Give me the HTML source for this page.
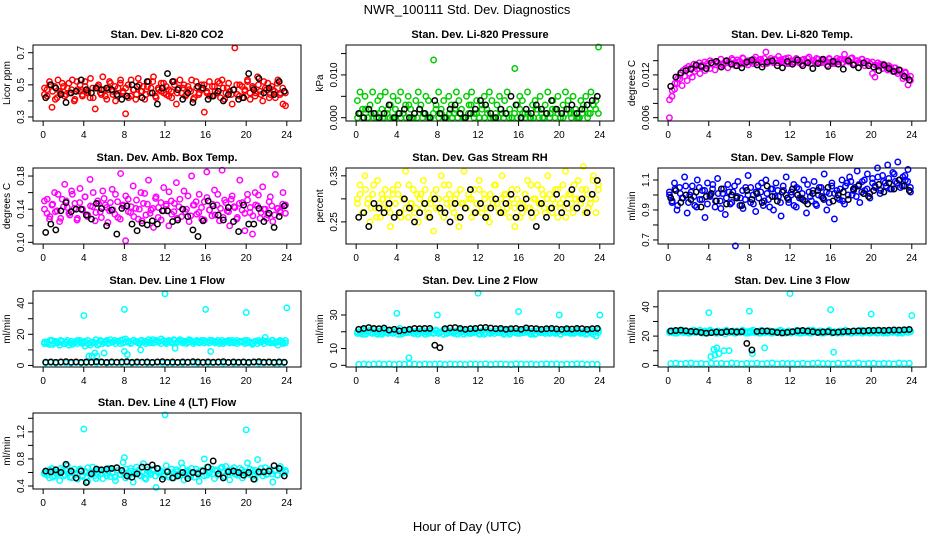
<!DOCTYPE html>
<html><head><meta charset="utf-8"><title>NWR_100111 Std. Dev. Diagnostics</title>
<style>
html,body{margin:0;padding:0;background:#fff;}
svg{display:block;font-family:"Liberation Sans",Arial,sans-serif;}
</style></head>
<body>
<svg id="chart" width="936" height="540" viewBox="0 0 936 540">
<rect width="936" height="540" fill="#fff"/>
<text x="467" y="14" text-anchor="middle" font-size="13">NWR_100111 Std. Dev. Diagnostics</text>
<text x="467" y="531" text-anchor="middle" font-size="13">Hour of Day (UTC)</text>
</svg>
<script>
// ---- data ----
const xTicks = [0,4,8,12,16,20,24];
const xTickLabels = ["0","4","8","12","16","20","24"];

const co2Red = [.44,.47,.52,.36,.49,.42,.46,.51,.43,.48,.45,.53,.41,.47,.50,.44,.52,.46,.42,.48,.35,.49,.45,.55,.43,.47,.51,.44,.40,.48,.53,.46,.32,.50,.43,.47,.41,.54,.46,.49,.44,.52,.48,.55,.42,.47,.51,.45,.49,.43,.46,.52,.38,.48,.45,.50,.44,.47,.53,.42,.48,.45,.50,.33,.46,.52,.43,.49,.45,.51,.53,.41,.48,.46,.38,.73,.44,.50,.42,.47,.52,.45,.49,.43,.55,.46,.40,.48,.51,.44,.47,.42,.53,.45,.38,.37];
const co2Red2 = [.48,.43,.50,.46,.41,.53,.45,.49,.44,.51,.47,.40,.52,.46,.43,.49,.45,.54,.42,.48,.50,.44,.47,.41,.52,.46,.49,.43,.51,.45,.48,.42,.53,.47,.44,.50,.46,.41,.49,.45,.52,.43,.48,.46,.51,.44,.47,.42,.50,.45,.53,.48,.43,.49,.46,.41,.52,.44,.47,.50,.45,.43,.49,.46,.52,.42,.48,.45,.51,.44,.47,.50,.43,.49,.46,.53,.41,.48,.45,.50,.44,.52,.47,.42,.49,.46,.51,.44,.48,.45];
const co2Black = [.42,.50,.48,.44,.39,.45,.46,.53,.47,.45,.48,.47,.48,.47,.44,.41,.43,.50,.49,.42,.52,.45,.38,.48,.57,.52,.47,.41,.45,.39,.49,.48,.41,.43,.46,.40,.44,.47,.41,.42,.57,.47,.54,.45,.48,.44,.52,.46];

const presGreen = [.004,.006,.002,.005,.000,.003,.006,.001,.004,.005,.000,.006,.002,.003,.005,.000,.004,.006,.001,.003,.005,.002,.000,.004,.006,.003,.001,.005,.004,.000,.0135,.003,.006,.002,.004,.000,.005,.003,.001,.006,.004,.002,.000,.005,.003,.006,.001,.004,.000,.003,.005,.002,.006,.004,.000,.003,.005,.001,.004,.006,.002,.000,.0115,.003,.005,.004,.001,.006,.000,.003,.004,.002,.005,.000,.003,.006,.001,.004,.002,.005,.000,.003,.006,.004,.001,.005,.002,.000,.004,.003,.005,.001,.006,.003,.004,.0165];
const presGreen2 = [.000,.001,.000,.002,.000,.001,.000,.000,.001,.002,.000,.001,.000,.000,.002,.001,.000,.001,.000,.003,.000,.001,.000,.002,.000,.001,.000,.000,.001,.002,.000,.001,.000,.000,.001,.000,.002,.000,.001,.000,.000,.001,.003,.000,.001,.000,.002,.000,.001,.000,.000,.001,.000,.002,.000,.001,.000,.000,.001,.000,.002,.001,.000,.001,.000,.000,.002,.000,.001,.000,.001,.000,.002,.000,.001,.000,.000,.001,.002,.000,.001,.000,.000,.001,.002,.000,.001,.003,.002,.001];
const presBlack = [.001,.000,.002,.001,.000,.001,.003,.000,.001,.002,.000,.001,.002,.001,.000,.004,.001,.000,.002,.003,.001,.000,.001,.002,.004,.003,.001,.000,.002,.001,.005,.003,.000,.002,.001,.003,.002,.001,.004,.002,.001,.002,.003,.001,.002,.003,.004,.005];

const tempMagenta = [.0060,.0090,.0100,.0108,.0114,.0105,.0118,.0112,.0122,.0117,.0125,.0128,.0122,.0131,.0126,.0133,.0129,.0135,.0127,.0137,.0132,.0134,.0139,.0130,.0136,.0141,.0133,.0138,.0135,.0143,.0137,.0134,.0140,.0136,.0145,.0138,.0142,.0135,.0152,.0139,.0143,.0137,.0141,.0146,.0138,.0142,.0136,.0144,.0140,.0137,.0143,.0139,.0135,.0142,.0138,.0145,.0136,.0140,.0143,.0137,.0141,.0138,.0134,.0142,.0139,.0136,.0143,.0140,.0137,.0149,.0141,.0138,.0144,.0135,.0140,.0137,.0142,.0133,.0139,.0136,.0122,.0117,.0132,.0135,.0129,.0133,.0127,.0131,.0125,.0130,.0122,.0126,.0115,.0124,.0106,.0118];
const tempMagenta2 = [.0085,.0098,.0108,.0115,.0120,.0126,.0129,.0132,.0130,.0135,.0133,.0137,.0134,.0138,.0136,.0140,.0135,.0139,.0137,.0142,.0136,.0140,.0138,.0143,.0137,.0141,.0139,.0144,.0136,.0140,.0138,.0142,.0137,.0141,.0139,.0143,.0136,.0140,.0138,.0142,.0137,.0141,.0139,.0143,.0136,.0140,.0138,.0142,.0137,.0141,.0139,.0143,.0136,.0140,.0138,.0142,.0137,.0141,.0139,.0143,.0136,.0140,.0138,.0142,.0137,.0141,.0139,.0143,.0136,.0140,.0138,.0142,.0137,.0139,.0136,.0138,.0134,.0137,.0133,.0135,.0131,.0133,.0128,.0130,.0125,.0127,.0121,.0123,.0116,.0112];
const tempBlack = [.0104,.0117,.0123,.0126,.0128,.0134,.0132,.0129,.0137,.0139,.0131,.0140,.0135,.0133,.0130,.0138,.0141,.0134,.0131,.0138,.0140,.0133,.0130,.0139,.0135,.0141,.0133,.0137,.0129,.0136,.0142,.0132,.0139,.0135,.0128,.0140,.0134,.0130,.0137,.0133,.0131,.0126,.0134,.0129,.0125,.0127,.0118,.0113];

const ambMagenta = [.150,.135,.128,.145,.160,.138,.125,.152,.170,.142,.133,.158,.147,.129,.165,.140,.155,.131,.176,.143,.126,.150,.137,.162,.145,.124,.148,.139,.158,.130,.183,.144,.102,.152,.136,.168,.141,.128,.160,.147,.133,.175,.139,.118,.155,.142,.127,.166,.146,.120,.150,.137,.172,.143,.131,.162,.140,.125,.180,.145,.134,.158,.128,.149,.185,.139,.132,.163,.145,.126,.187,.151,.138,.120,.156,.142,.130,.175,.148,.114,.158,.136,.110,.160,.144,.129,.167,.140,.133,.155,.125,.182,.141,.136,.160,.145];
const ambMagenta2 = [.140,.152,.131,.146,.137,.158,.129,.143,.150,.135,.162,.141,.127,.148,.139,.155,.133,.144,.160,.136,.147,.130,.153,.142,.138,.164,.134,.149,.128,.145,.156,.137,.143,.131,.151,.140,.126,.159,.146,.135,.141,.153,.130,.148,.138,.144,.161,.134,.147,.129,.152,.140,.137,.156,.132,.145,.149,.136,.142,.127,.154,.139,.146,.133,.158,.141,.130,.148,.137,.152,.143,.128,.147,.139,.135,.151,.142,.132,.145,.157,.136,.140,.129,.149,.144,.133,.141,.138,.146,.135];
const ambBlack = [.112,.122,.115,.138,.148,.137,.140,.140,.133,.128,.147,.141,.120,.139,.110,.141,.144,.122,.114,.123,.121,.126,.122,.138,.138,.125,.127,.140,.131,.115,.107,.126,.150,.144,.133,.127,.142,.125,.113,.145,.122,.122,.141,.125,.135,.118,.131,.144];

const rhYellow = [.30,.33,.27,.35,.29,.25,.31,.28,.34,.26,.30,.32,.28,.24,.31,.29,.33,.27,.30,.36,.26,.29,.32,.28,.25,.31,.34,.29,.27,.30,.23,.32,.28,.35,.26,.30,.33,.29,.27,.31,.24,.29,.36,.28,.30,.26,.32,.29,.34,.27,.31,.28,.25,.30,.33,.29,.27,.35,.31,.28,.26,.30,.24,.32,.29,.27,.31,.34,.28,.26,.30,.33,.29,.31,.27,.35,.28,.30,.32,.26,.29,.33,.36,.28,.31,.27,.30,.34,.29,.37,.32,.28,.30,.35,.27,.33];
const rhYellow2 = [.29,.31,.27,.32,.30,.28,.33,.26,.29,.31,.28,.30,.27,.32,.29,.31,.26,.30,.28,.33,.29,.27,.31,.30,.28,.32,.26,.29,.31,.28,.30,.27,.33,.29,.31,.28,.30,.26,.32,.29,.28,.31,.30,.27,.29,.32,.28,.30,.26,.31,.29,.33,.28,.30,.27,.31,.29,.32,.28,.30,.26,.29,.31,.28,.33,.30,.27,.29,.32,.28,.30,.31,.27,.29,.32,.28,.30,.26,.31,.29,.33,.28,.30,.32,.27,.31,.29,.34,.30,.32];
const rhBlack = [.26,.27,.24,.29,.28,.27,.29,.26,.27,.30,.28,.25,.27,.29,.26,.30,.28,.27,.25,.29,.26,.28,.32,.27,.29,.26,.28,.30,.27,.29,.31,.26,.28,.30,.27,.24,.29,.26,.28,.31,.27,.29,.32,.28,.30,.27,.31,.34];

const flowBlue = [1.02,.95,1.08,.90,1.05,.98,1.12,.88,1.00,1.06,.93,1.10,.97,1.03,.85,1.08,.99,1.04,.92,1.11,.96,1.01,.87,1.07,.94,1.02,.66,1.09,.98,.91,1.05,1.13,.95,1.00,.89,1.06,1.02,.93,1.10,.97,1.04,.90,1.08,.99,.86,1.03,1.12,.95,1.00,1.07,.92,1.04,.98,1.10,.88,1.02,.96,1.09,.93,1.05,.99,1.14,.90,1.01,1.06,.84,1.03,.97,1.10,.94,1.08,1.12,1.00,1.05,1.16,.95,1.09,1.03,1.14,.98,1.11,1.06,1.18,1.01,1.13,1.08,1.20,1.04,1.15,1.09,1.22,1.05,1.12,1.10,1.17,1.02];
const flowBlue2 = [1.00,.96,1.04,.93,1.01,.98,1.06,.95,1.02,.99,.92,1.05,.97,1.03,.94,1.00,1.07,.96,1.01,.91,1.04,.98,1.02,.95,1.06,.99,.93,1.03,.97,1.00,1.05,.94,1.02,.98,1.08,.96,1.01,.92,1.04,.99,1.03,.95,1.06,1.00,.97,1.02,.93,1.05,.98,1.01,.96,1.07,.99,1.03,.94,1.00,1.05,.97,1.02,.95,1.08,1.01,.98,1.04,.96,1.06,1.00,1.09,1.03,.99,1.07,1.02,1.10,1.04,1.01,1.08,1.05,1.12,1.03,1.09,1.06,1.11,1.04,1.14,1.08,1.10,1.06,1.13,1.09,1.05];
const flowBlack = [.98,1.03,.95,1.00,.97,1.02,.92,.99,1.01,.96,1.04,.94,1.00,.98,.93,1.03,.97,1.01,.95,1.06,.99,.96,1.02,.98,1.04,1.00,.97,.94,1.01,1.03,.98,1.05,.96,1.00,1.02,.97,1.04,1.06,1.01,.99,1.03,1.07,1.02,1.08,1.04,1.10,1.06,1.03];

const l1Band = [14,15,13.5,16,14.5,15,13,15.5,14,16,14.5,13.5,15,14,16,15,12.5,14,13,15,14.5,13,16,14,15.5,14,16.5,15,14,15.5,16,14.5,17,15,14,16,15.5,14.5,16,15,14,16.5,15.5,14.5,16,15,17,15.5,14,16,15,16.5,14.5,15.5,16,15,14,16.5,15.5,15,16,14.5,15.5,16,15,14.5,16,15.5,15,14,16,15,15.5,14.5,16,15,14,15.5,15,16,14.5,15,13.5,15.5,14,15,16,18,15,14.5,16,15,13,15.5,14,16];
const l1Band2 = [15,14,16,13.5,15.5,14.5,16,14,15,13,15.5,14.5,16,15,14,15.5,16,14.5,15,16.5,14,15.5,15,16,14.5,15,16,15.5,14,16.5,15,15.5,14.5,16,15,14,16,15.5,15,14.5,16.5,15,15.5,14,16,15,15.5,14.5,16,15,16.5,14.5,15.5,15,16,14,15.5,15,16,14.5,15,16,15.5,14.5,16,15,14,15.5,16,15,14.5,16,15,15.5,14,16,15,14.5,15.5,16,15,14,15.5,15,16,14.5,15,16,15,14.5];
const l1Low = [1.6,1.8,1.5,1.9,1.7,1.6,1.8,1.5,1.7,1.9,1.6,1.8,1.5,1.7,1.8,1.6,1.9,1.5,1.7,1.8,1.6,1.7,1.9,1.6,1.7,1.5,1.8,1.6,1.9,1.7,1.5,1.8,1.6,1.7,1.9,1.5,1.8,1.6,1.7,1.8,1.5,1.9,1.6,1.7,1.8,1.6,1.5,1.7];
const l1Black = [2.1,2.3,2.0,2.2,2.4,2.1,2.3,2.0,2.2,2.1,2.4,2.2,2.0,2.3,2.1,2.2,2.4,2.0,2.3,2.1,2.2,2.0,2.3,2.4,2.1,2.2,2.0,2.3,2.1,2.4,2.2,2.0,2.3,2.1,2.2,2.4,2.0,2.3,2.1,2.2,2.0,2.3,2.4,2.1,2.2,2.0,2.3,2.1];
const l1OutHours = [4,8,12,16,20,24,4.5,4.8,5.1,5.3,6,8,8.3,9.6,13,16.5];
const l1OutVals = [32,36,46,36,34,37,6,6,8,6,8,9,7,10,11,9];

const l2Band = [19,20,18.5,20.5,19.5,21,19,20,18.5,20.5,19.5,20,19,21,19.5,20,18.5,20.5,19,20,19.5,21,19,20,18.5,20.5,19.5,20,19,21,19.5,20.5,19,20,18.5,21,19.5,20,19,20.5,19.5,20,18.5,21,19,20,19.5,20.5,19,20,18.5,21,19.5,20,19,20.5,19.5,20,19,21,18.5,20,19.5,20.5,19,20,19.5,21,19,20,18.5,20.5,19.5,20,19,21,19.5,20,19,20.5,18.5,20,19.5,21,19,20,19.5,20.5,19,20,18.5,20.5,19.5,20,17.5,21];
const l2Band2 = [20,19,21,18.5,20.5,19.5,21.5,19,20,18.5,21,19.5,20.5,19,20,21,18.5,20,19.5,21,20,19,20.5,19.5,21,18.5,20,20.5,19,21,19.5,20,21.5,19,20.5,19.5,20,18.5,21,20,19.5,20.5,19,21,20,18.5,20.5,19.5,21,19,20,20.5,19.5,21,18.5,20,19.5,21,20,19,20.5,19.5,21,20,18.5,20.5,19,21,19.5,20,20.5,19,21,19.5,20,18.5,20.5,21,19.5,20,19,21,20,19.5,20.5,19,21,18.5,20,19.5];
const l2Low = [0.6,0.8,0.5,0.7,0.9,0.6,0.8,0.5,0.7,0.6,0.9,0.7,0.5,0.8,0.6,0.7,0.9,0.5,0.8,0.6,0.7,0.5,0.8,0.7,0.6,0.9,0.5,0.7,0.8,0.6,0.5,0.9,0.7,0.6,0.8,0.5,0.7,0.9,0.6,0.8,0.5,0.7,0.6,0.9,0.8,0.5,0.7,0.6];
const l2Black = [21.5,22,22.5,22,21.8,22.2,21,21.5,20.5,21,21.5,22,21.8,22,22,12,10.5,21.8,22.3,22.5,22,21.5,21.8,22,22.4,22.6,22.2,21.8,22,21.5,21.8,22,21.5,22.3,22,21.8,21.5,21.8,22,21.7,21.5,21.8,21.6,22,21.8,21.5,21.8,22];
const l2OutHours = [4,8,12,16,20,24,4.3,5.2];
const l2OutVals = [31,30,43,32,30,30,22,4.5];

const l3Band = [23,22.5,23.5,22,23,24,22.5,23,22,23.5,22.5,23,24,22.5,23,22,23.5,22.5,23,22,22.5,23,21.5,23,22.5,23.5,22,23,22.5,23.5,22,23,22.5,24,22.5,23,22,23.5,22.5,23,22,23,22.5,23.5,22,23,22.5,23.5,22,23,22.5,23.5,22,23,22.5,24,22,23,22.5,23.5,22,23,22.5,23.5,22,23,22.5,23,22,23.5,22.5,23,22,23.5,22.5,23,22,23.5,22.5,24,22.5,23,22,23.5,22.5,23,22,23.5,22.5,23,22,23.5,22.5,24,22.5,23];
const l3Band2 = [22.5,23.5,22,23,24,22.5,23,22,23.5,24,22.5,23,22,23.5,22.5,24,23,22,23.5,22.5,23,24,22.5,23,22,23.5,22.5,24,23,22,23.5,22.5,23,22,24,22.5,23,23.5,22,23,22.5,24,23,22,23.5,22.5,23,24,22,23,22.5,23.5,22,24,23,22.5,23.5,22,23,24,22.5,23,22,23.5,22.5,24,23,22,23.5,22.5,23,24,22.5,23,22,23.5,22.5,24,23,22,23.5,22.5,23,24,22.5,23,22,23.5,24,23];
const l3Low = [1.2,1.5,1.0,1.4,1.6,1.1,1.3,1.0,1.5,1.2,1.4,1.1,1.6,1.3,1.0,1.4,1.2,1.5,1.1,1.3,1.6,1.0,1.4,1.2,1.3,1.1,1.5,1.0,1.4,1.6,1.2,1.3,1.0,1.5,1.1,1.4,1.2,1.6,1.0,1.3,1.5,1.1,1.4,1.2,1.0,1.6,1.3,1.4];
const l3Black = [23.5,23.8,24,23.6,23.2,23,22.5,22,22.3,22.8,22.5,23,23.2,22.8,23,15,10.5,23.2,23.4,23.5,23,22.5,22.2,22.6,23,23.6,23.8,23.4,23,22.5,22.8,23,22.4,22.7,23,23.2,23.4,23.6,23.5,23.8,23.9,24,23.8,24,24.2,24.1,24.3,24.5];
const l3OutHours = [4,8,12,16,20,24,4.2,4.5,4.8,5,5.5,6,8.3,9.5,16.3,4.6];
const l3OutVals = [36,37,49,38,35,34,6,11,12,8,10,10,8,12,9,7];

const l4Cyan = [.58,.62,.52,.66,.55,.60,.48,.63,.57,.70,.53,.61,.59,.50,.65,.56,.62,.47,.60,.68,.55,.58,.64,.51,.59,.66,.54,.61,.48,.63,.57,.75,.52,.60,.66,.46,.58,.63,.55,.73,.50,.61,.57,.65,.38,.59,.62,.54,.70,.56,.60,.52,.64,.58,.74,.49,.61,.57,.66,.53,.60,.47,.63,.80,.56,.59,.65,.51,.62,.57,.68,.54,.60,.49,.64,.58,.56,.66,.52,.61,.74,.57,.63,.50,.79,.60,.55,.67,.58,.62,.46,.64,.56,.69,.59,.61];
const l4Cyan2 = [.60,.56,.64,.53,.61,.58,.66,.55,.62,.59,.52,.65,.57,.63,.54,.60,.67,.56,.61,.51,.64,.58,.62,.55,.66,.59,.53,.63,.57,.60,.65,.54,.62,.58,.68,.56,.61,.52,.64,.59,.63,.55,.66,.60,.57,.62,.53,.65,.58,.61,.56,.67,.59,.63,.54,.60,.65,.57,.62,.55,.68,.61,.58,.64,.56,.66,.60,.69,.63,.59,.67,.62,.57,.64,.61,.58,.65,.55,.63,.59,.66,.60,.57,.64,.58,.62,.56,.65,.60,.63];
const l4Black = [.62,.61,.64,.60,.72,.62,.52,.62,.45,.58,.65,.64,.65,.66,.67,.63,.55,.53,.58,.68,.68,.71,.66,.50,.61,.52,.55,.60,.51,.60,.58,.62,.68,.77,.58,.52,.61,.62,.60,.56,.60,.50,.61,.61,.62,.70,.66,.55];
const l4OutHours = [4,12,20,8];
const l4OutVals = [1.24,1.45,1.23,0.82];

// ---- layout / styling ----
const colLeft = [33, 346, 658];
const rowTop = [45, 168, 291, 413];
const boxW = 268, boxH = 76;
const xMin = -1.0, xMax = 25.4;

const panels = [
 {name:'co2', title:'Stan. Dev. Li-820 CO2', ylab:'Licor ppm', c:0, r:0, ylim:[0.275,0.748],
  ticks:[0.3,0.4,0.5,0.6,0.7], labels:['0.3','','0.5','','0.7'],
  series:[{v:co2Red,col:'#ff0000'},{v:co2Red2,col:'#ff0000'},{v:co2Black,col:'#000'}]},
 {name:'pressure', title:'Stan. Dev. Li-820 Pressure', ylab:'kPa', c:1, r:0, ylim:[-0.00077,0.0170],
  ticks:[0,0.005,0.010,0.015], labels:['0.000','','0.010',''],
  series:[{v:presGreen2,col:'#00cd00'},{v:presGreen,col:'#00cd00'},{v:presBlack,col:'#000'}]},
 {name:'temp', title:'Stan. Dev. Li-820 Temp.', ylab:'degrees C', c:2, r:0, ylim:[0.00553,0.0162],
  ticks:[0.006,0.008,0.010,0.012,0.014], labels:['0.006','','','0.012',''],
  series:[{v:tempMagenta,col:'#ff00ff'},{v:tempMagenta2,col:'#ff00ff'},{v:tempBlack,col:'#000'}]},
 {name:'amb-temp', title:'Stan. Dev. Amb. Box Temp.', ylab:'degrees C', c:0, r:1, ylim:[0.098,0.1897],
  ticks:[0.10,0.12,0.14,0.16,0.18], labels:['0.10','','0.14','','0.18'],
  series:[{v:ambMagenta,col:'#ff00ff'},{v:ambMagenta2,col:'#ff00ff'},{v:ambBlack,col:'#000'}]},
 {name:'gas-rh', title:'Stan. Dev. Gas Stream RH', ylab:'percent', c:1, r:1, ylim:[0.202,0.367],
  ticks:[0.25,0.30,0.35], labels:['0.25','','0.35'],
  series:[{v:rhYellow,col:'#ffff00'},{v:rhYellow2,col:'#ffff00'},{v:rhBlack,col:'#000'}]},
 {name:'sample-flow', title:'Stan. Dev. Sample Flow', ylab:'ml/min', c:2, r:1, ylim:[0.673,1.18],
  ticks:[0.7,0.8,0.9,1.0,1.1], labels:['0.7','','0.9','','1.1'],
  series:[{v:flowBlue,col:'#0000ff'},{v:flowBlue2,col:'#0000ff'},{v:flowBlack,col:'#000'}]},
 {name:'line1', title:'Stan. Dev. Line 1 Flow', ylab:'ml/min', c:0, r:2, ylim:[-1,47.8],
  ticks:[0,10,20,30,40], labels:['0','','20','','40'],
  series:[{v:l1Low,col:'#00ffff'},{v:l1Band,col:'#00ffff'},{v:l1Band2,col:'#00ffff'},{v:l1OutVals,h:l1OutHours,col:'#00ffff'},{v:l1Black,col:'#000'}]},
 {name:'line2', title:'Stan. Dev. Line 2 Flow', ylab:'ml/min', c:1, r:2, ylim:[-1,44.3],
  ticks:[0,10,20,30], labels:['0','10','','30'],
  series:[{v:l2Low,col:'#00ffff'},{v:l2Band,col:'#00ffff'},{v:l2Band2,col:'#00ffff'},{v:l2OutVals,h:l2OutHours,col:'#00ffff'},{v:l2Black,col:'#000'}]},
 {name:'line3', title:'Stan. Dev. Line 3 Flow', ylab:'ml/min', c:2, r:2, ylim:[-1.1,50.8],
  ticks:[0,10,20,30,40], labels:['0','','20','','40'],
  series:[{v:l3Low,col:'#00ffff'},{v:l3Band,col:'#00ffff'},{v:l3Band2,col:'#00ffff'},{v:l3OutVals,h:l3OutHours,col:'#00ffff'},{v:l3Black,col:'#000'}]},
 {name:'line4', title:'Stan. Dev. Line 4 (LT) Flow', ylab:'ml/min', c:0, r:3, ylim:[0.356,1.478],
  ticks:[0.4,0.6,0.8,1.0,1.2,1.4], labels:['0.4','','0.8','','1.2',''],
  series:[{v:l4Cyan,col:'#00ffff'},{v:l4Cyan2,col:'#00ffff'},{v:l4OutVals,h:l4OutHours,col:'#00ffff'},{v:l4Black,col:'#000'}]}
];

const NS = 'http://www.w3.org/2000/svg';
const svg = document.getElementById('chart');
function mk(tag, attrs, parent){
  const e = document.createElementNS(NS, tag);
  for (const k in attrs) e.setAttribute(k, attrs[k]);
  parent.appendChild(e);
  return e;
}

panels.forEach(p => {
  const L = colLeft[p.c], T = rowTop[p.r], R = L + boxW, B = T + boxH;
  const xs = h => L + (h - xMin) / (xMax - xMin) * boxW;
  const ys = v => B - (v - p.ylim[0]) / (p.ylim[1] - p.ylim[0]) * boxH;
  const g = mk('g', {}, svg);
  
  

  const t = mk('text', {x:(L+R)/2, y:T-7, 'text-anchor':'middle', 'font-size':'11', 'font-weight':'bold'}, g);
  t.textContent = p.title;
  
  

  const yl = mk('text', {x:0, y:0, 'text-anchor':'middle', 'font-size':'10', transform:'translate(' + (L-23) + ',' + ((T+B)/2) + ') rotate(-90)'}, g);
  yl.textContent = p.ylab;
  
  

  const pg = mk('g', {fill:'none', 'stroke-width':'1.5'}, g);
  
  
  p.series.forEach(s => {
    s.v.forEach((val, i) => {
      const hr = s.h ? s.h[i] : (i + 0.5) * 24 / s.v.length;
      const c = mk('circle', {cx:xs(hr).toFixed(1), cy:ys(val).toFixed(1), r:'2.7', stroke:s.col}, pg);
      
      
    });
  });

  const box = mk('rect', {x:L, y:T, width:boxW, height:boxH, fill:'none', stroke:'#000', 'stroke-width':'1'}, g);
  
  

  const xa = mk('g', {stroke:'#000', 'stroke-width':'1'}, g);
  
  
  xTicks.forEach((h, i) => {
    const x = xs(h);
    mk('line', {x1:x, x2:x, y1:B, y2:B+5}, xa);
    const tl = mk('text', {x:x, y:B+17, 'text-anchor':'middle', 'font-size':'10', stroke:'none'}, xa);
    tl.textContent = xTickLabels[i];
    
    
  });

  const ya = mk('g', {stroke:'#000', 'stroke-width':'1'}, g);
  
  
  p.ticks.forEach((v, i) => {
    const y = ys(v);
    mk('line', {x1:L-5, x2:L, y1:y, y2:y}, ya);
    if (p.labels[i]) {
      const tl = mk('text', {x:0, y:0, 'text-anchor':'middle', 'font-size':'10', stroke:'none', transform:'translate(' + (L-9) + ',' + y + ') rotate(-90)'}, ya);
      tl.textContent = p.labels[i];
      
      
    }
  });
});
</script>
</body></html>
